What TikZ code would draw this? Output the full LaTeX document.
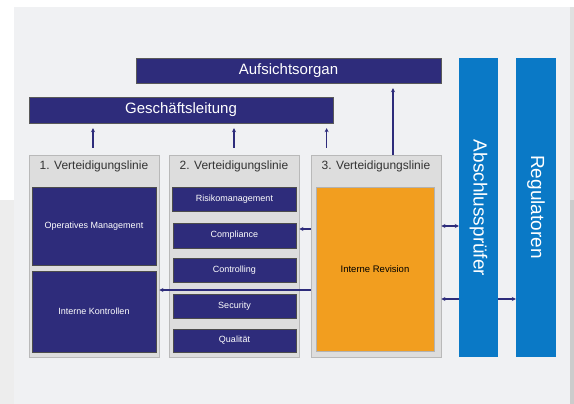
\documentclass[tikz,border=0pt]{standalone}
\usepackage{fontspec}
\setmainfont{Liberation Sans}
\usetikzlibrary{arrows.meta}

\definecolor{navy}{HTML}{2E2C7B}
\definecolor{auditblue}{HTML}{0A79C6}
\definecolor{revorange}{HTML}{F29E1F}
\definecolor{panelgrey}{HTML}{F0F1F3}
\definecolor{linegrey}{HTML}{DDDDDD}

\tikzset{
  topbar/.style={fill=navy,draw=gray!70!black,line width=0.4pt,inner sep=0pt,
    text=white,font=\fontsize{15}{15}\selectfont},
  linecol/.style={fill=linegrey,draw=gray!55,line width=0.8pt,inner sep=0pt,
    minimum width=130pt,minimum height=202pt},
  linehead/.style={text=black!80,font=\fontsize{12}{12}\selectfont},
  unitbox/.style={fill=navy,draw=gray!60!black,line width=0.4pt,inner sep=0pt,
    text=white,font=\fontsize{9}{9}\selectfont},
  outside/.style={fill=auditblue,inner sep=0pt,minimum width=39pt,minimum height=299pt},
  outlabel/.style={rotate=-90,text=white,font=\fontsize{19}{19}\selectfont},
  arr/.style={draw=navy,line width=1.1pt,-{Stealth[length=4pt,width=4pt]}},
  dblarr/.style={draw=navy,line width=1.1pt,{Stealth[length=4pt,width=4pt]}-{Stealth[length=4pt,width=4pt]}}
}

\begin{document}
\begin{tikzpicture}[x=1pt,y=-1pt]
\useasboundingbox (0,0) rectangle (574,404);
% background
\fill[white] (0,0) rectangle (574,404);
\fill[panelgrey] (14,7) rectangle (570,404);
\fill[black!7] (0,200) rectangle (14,404);
\fill[black!12] (570,7) rectangle (574,200);
\fill[black!20] (570,200) rectangle (574,404);

% management and supervisory body
\node[topbar,minimum width=305pt,minimum height=25pt] (auf) at (288.5,70.5) {Aufsichtsorgan};
\node[topbar,minimum width=304pt,minimum height=26pt] (gl) at (181,110) {Geschäftsleitung};

% three lines of defence
\node[linecol] (col1) at (94,256) {};
\node[linecol] (col2) at (234,256) {};
\node[linecol] (col3) at (376,256) {};
\node[linehead] at (col1.north |- 0,166) {1. Verteidigungslinie};
\node[linehead] at (col2.north |- 0,166) {2. Verteidigungslinie};
\node[linehead] at (col3.north |- 0,166) {3. Verteidigungslinie};

\node[unitbox,minimum width=124pt,minimum height=78pt] (opm) at (94,226) {Operatives Management};
\node[unitbox,minimum width=124pt,minimum height=81pt] (ik) at (94,311.5) {Interne Kontrollen};

\node[unitbox,minimum width=124pt,minimum height=24pt] (risk) at (234.5,199) {Risikomanagement};
\node[unitbox,minimum width=123pt,minimum height=25pt] (comp) at (234.5,235.5) {Compliance};
\node[unitbox,minimum width=123pt,minimum height=24pt] (contr) at (234.5,270.5) {Controlling};
\node[unitbox,minimum width=123pt,minimum height=24pt] (sec) at (234.5,306) {Security};
\node[unitbox,minimum width=123pt,minimum height=23pt] (qual) at (234.5,340.5) {Qualität};

\node[fill=revorange,draw=gray!60,line width=0.5pt,inner sep=0pt,minimum width=118pt,minimum height=164pt,
  font=\fontsize{9.5}{9.5}\selectfont] (rev) at (375,269) {Interne Revision};

% external parties
\node[outside] (abs) at (478.5,207.5) {};
\node[outside,minimum width=40pt] (reg) at (536,207.5) {};
\node[outlabel] at (abs.north |- 0,208) {Abschlussprüfer};
\node[outlabel] at (reg.north |- 0,207) {Regulatoren};

% arrow levels
\coordinate (lvlA) at (0,226);
\coordinate (lvlC) at (0,229);
\coordinate (lvlD) at (0,290);
\coordinate (lvlB) at (0,299);

% reporting lines
\draw[arr,shorten <=7pt,shorten >=5pt] ([xshift=-1pt]col1.north) -- ([xshift=-1pt]col1.north |- gl.south);
\draw[arr,shorten <=7pt,shorten >=5pt] (col2.north) -- (col2.north |- gl.south);
\draw[arr,shorten <=7pt,shorten >=5pt] ([xshift=16pt]col3.north west) -- ([xshift=16pt]col3.north west |- gl.south);
\draw[arr,shorten >=5pt] ([xshift=17pt]col3.north) -- ([xshift=17pt]col3.north |- auf.south);

\draw[arr] (col3.west |- lvlC) -- (col2.east |- lvlC);
\draw[arr] (col3.west |- lvlD) -- (col1.east |- lvlD);
\draw[dblarr] (col3.east |- lvlA) -- (abs.west |- lvlA);
\draw[arr] (abs.west |- lvlB) -- (col3.east |- lvlB);
\draw[arr] (abs.east |- lvlB) -- (reg.west |- lvlB);
\end{tikzpicture}
\end{document}
